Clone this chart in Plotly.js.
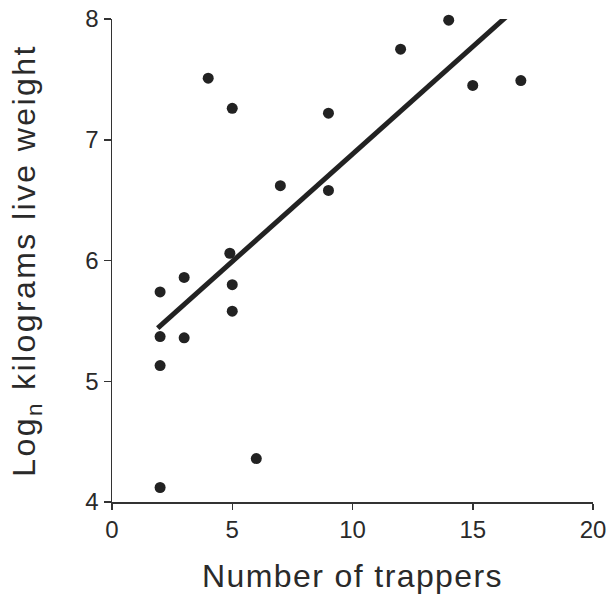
<!DOCTYPE html>
<html>
<head>
<meta charset="utf-8">
<script src="https://cdn.plot.ly/plotly-3.0.1.min.js"></script>
<style>
html, body { margin: 0; padding: 0; background: #fff; }
#chart { width: 608px; height: 599px; }
.xtitle { letter-spacing: 1.4px; }
.ytitle { letter-spacing: 2.4px; }
</style>
</head>
<body>
<div id="chart"></div>
<script>
// Observed points: number of trappers vs log_n kg live weight
const trappers = [4, 5, 9, 12, 14, 15, 17, 7, 9, 4.9, 3, 2, 5, 5, 2, 3, 2, 6, 2];
const logWeight = [7.51, 7.26, 7.22, 7.75, 7.99, 7.45, 7.49, 6.62, 6.58, 6.06, 5.86, 5.74, 5.80, 5.58, 5.37, 5.36, 5.13, 4.36, 4.12];

// Fitted regression line (endpoints)
const fitX = [1.9, 16.4];
const fitY = [5.44, 8.02];

const xTickVals = [0, 5, 10, 15, 20];
const yTickVals = [4, 5, 6, 7, 8];

const ink = '#222222';
const fontFam = '"Liberation Sans", Arial, Helvetica, sans-serif';

const traces = [
  {
    x: fitX, y: fitY, type: 'scatter', mode: 'lines',
    line: { color: ink, width: 5 },
    hoverinfo: 'skip', cliponaxis: false
  },
  {
    x: trappers, y: logWeight, type: 'scatter', mode: 'markers',
    marker: { color: ink, size: 11 },
    cliponaxis: false
  }
];

const layout = {
  width: 608, height: 599,
  margin: { l: 112, r: 15, t: 19, b: 97 },
  paper_bgcolor: '#ffffff', plot_bgcolor: '#ffffff',
  showlegend: false,
  font: { family: fontFam, color: ink, size: 24 },
  xaxis: {
    range: [0, 20], tickvals: xTickVals, ticktext: xTickVals.map(String),
    showgrid: false, zeroline: false,
    showline: true, linecolor: '#333', linewidth: 1.5,
    ticks: 'outside', ticklen: 6, tickwidth: 1.5, tickcolor: '#333',
    tickfont: { size: 24, color: '#2a2a2a' },
    title: { text: 'Number of trappers', font: { size: 32, color: '#2a2a2a' }, standoff: 22 }
  },
  yaxis: {
    range: [4, 8], tickvals: yTickVals, ticktext: yTickVals.map(String),
    showgrid: false, zeroline: false,
    showline: true, linecolor: '#333', linewidth: 1.5,
    ticks: 'outside', ticklen: 7, tickwidth: 1.5, tickcolor: '#333',
    tickfont: { size: 24, color: '#2a2a2a' },
    title: { text: 'Log<sub>n</sub> kilograms live weight', font: { size: 32, color: '#2a2a2a' }, standoff: 40 }
  }
};

Plotly.newPlot('chart', traces, layout, { displayModeBar: false, staticPlot: true });
</script>
</body>
</html>
